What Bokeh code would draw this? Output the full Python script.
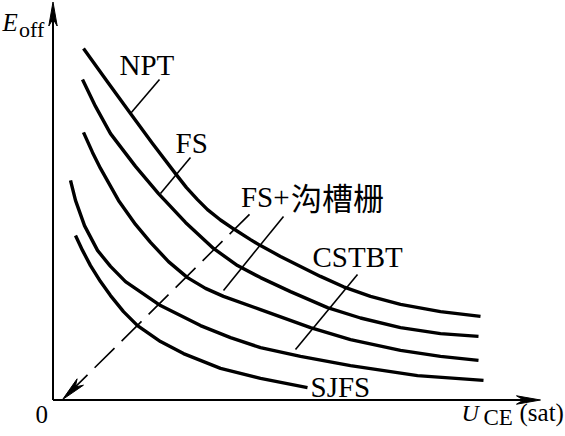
import math
from bokeh.plotting import figure
from bokeh.models import Range1d, Label
from bokeh.core.properties import value
from bokeh.embed import file_html
from bokeh.resources import INLINE

# ---------------- data (arbitrary units) ----------------
series = ["NPT", "FS", "FS+沟槽栅", "CSTBT", "SJFS"]

npt_x = [0.61, 1.07, 1.55, 1.99, 2.45, 2.67, 2.89, 3.09, 3.35, 3.61, 3.95, 4.15, 4.55, 4.95,
         5.35, 5.81, 6.35, 6.95, 7.75, 8.55]
npt_y = [8.79, 7.99, 7.16, 6.41, 5.66, 5.31, 5.01, 4.76, 4.50, 4.28, 4.01, 3.86, 3.59, 3.34,
         3.09, 2.83, 2.59, 2.39, 2.21, 2.09]

fs_x = [0.59, 0.85, 1.15, 1.65, 2.11, 2.65, 3.21, 3.69, 4.15, 4.75, 5.49, 6.15, 6.95, 7.75, 8.51]
fs_y = [8.01, 7.34, 6.66, 5.84, 5.16, 4.44, 3.79, 3.36, 3.06, 2.71, 2.31, 2.05, 1.81, 1.66, 1.59]

trench_x = [0.61, 0.79, 0.95, 1.31, 1.65, 1.95, 2.31, 2.69, 3.05, 3.41, 4.15, 5.15, 5.95, 6.95, 7.75, 8.51]
trench_y = [6.69, 6.19, 5.79, 4.99, 4.39, 3.94, 3.46, 3.06, 2.79, 2.59, 2.26, 1.81, 1.51, 1.24, 1.09, 0.99]

cstbt_x = [0.35, 0.45, 0.63, 0.89, 1.15, 1.45, 2.15, 2.95, 3.55, 4.15, 4.95, 5.95, 7.29, 8.61]
cstbt_y = [5.49, 4.99, 4.36, 3.74, 3.34, 2.96, 2.36, 1.86, 1.56, 1.31, 1.09, 0.86, 0.61, 0.49]

sjfs_x = [0.45, 0.59, 0.75, 0.95, 1.15, 1.41, 1.69, 2.15, 2.61, 3.35, 4.15, 5.09]
sjfs_y = [4.11, 3.74, 3.36, 2.96, 2.61, 2.21, 1.86, 1.46, 1.16, 0.79, 0.54, 0.31]

curves_x = [npt_x, fs_x, trench_x, cstbt_x, sjfs_x]
curves_y = [npt_y, fs_y, trench_y, cstbt_y, sjfs_y]

# axis extents (data units)
x_axis_end = 9.75
y_axis_end = 9.95

# ---------------- layout / annotation placement ----------------
W, H = 565, 436
X0, X1 = -1.05, 10.25
Y0, Y1 = -0.9125, 9.9875
SX = W / (X1 - X0)
SY = H / (Y1 - Y0)

SERIF = "Liberation Serif"
CJK = "Noto Sans CJK SC"


def lift(fs_px):
    # raise a text so that its visible baseline sits at the intended position
    return 0.3 * fs_px / SY


p = figure(width=W, height=H, x_range=Range1d(X0, X1), y_range=Range1d(Y0, Y1),
           output_backend="svg", toolbar_location=None,
           x_axis_type=None, y_axis_type=None, min_border=0)
p.outline_line_color = None
p.background_fill_color = "white"
p.border_fill_color = "white"


def arrow_head(tip, tail, length=24.0, half=4.2, notch=17.0):
    dx = (tail[0] - tip[0]) * SX
    dy = (tail[1] - tip[1]) * SY
    L = math.hypot(dx, dy)
    ux, uy = dx / L, dy / L
    vx, vy = -uy, ux
    pts = [(0.0, 0.0),
           (length * ux + half * vx, length * uy + half * vy),
           (notch * ux, notch * uy),
           (length * ux - half * vx, length * uy - half * vy)]
    xs = [tip[0] + a / SX for a, b in pts]
    ys = [tip[1] + b / SY for a, b in pts]
    base = (tip[0] + notch * ux / SX, tip[1] + notch * uy / SY)
    return xs, ys, base


# axes drawn as arrows
origin = (0.0, 0.0)
for tip in [(0.0, y_axis_end), (x_axis_end, 0.0)]:
    hx, hy, base = arrow_head(tip, origin)
    p.line([origin[0], base[0]], [origin[1], base[1]], line_color="black", line_width=2)
    p.patch(hx, hy, fill_color="black", line_color="black", line_width=1)

# curves
for cx, cy in zip(curves_x, curves_y):
    p.line(cx, cy, line_color="black", line_width=3.4, line_join="round")

# leader lines
lead_x0 = [2.13, 2.75, 4.61, 6.09]
lead_y0 = [8.01, 6.06, 4.59, 3.14]
lead_x1 = [1.55, 2.15, 3.41, 4.85]
lead_y1 = [7.16, 5.16, 2.74, 1.26]
p.segment(lead_x0, lead_y0, lead_x1, lead_y1, line_color="black", line_width=1.6)

# dashed trend arrow
d_tail = (3.93, 4.64)
d_tip = (0.19, 0.01)
hx, hy, base = arrow_head(d_tip, d_tail, length=25.0, half=4.5, notch=18.0)
p.line([d_tail[0], base[0]], [d_tail[1], base[1]], line_color="black",
       line_width=1.6, line_dash="28 10")
p.patch(hx, hy, fill_color="black", line_color="black", line_width=1)

# series labels (x, baseline y)
lab_x = [1.33, 2.45, 5.19, 5.15]
lab_y = [8.16, 6.21, 3.36, 0.10]
p.text(x=lab_x, y=[v + lift(29) for v in lab_y],
       text=[series[0], series[1], series[3], series[4]],
       text_font=value(SERIF), text_font_size="29px", text_color="black",
       text_align="left", text_baseline="alphabetic")
p.text(x=[4.73], y=[4.86 + lift(29)], text=[series[2][:3]],
       text_font=value(SERIF), text_font_size="29px", text_color="black",
       text_align="right", text_baseline="alphabetic")
p.text(x=[4.76], y=[4.86 + lift(31)], text=[series[2][3:]],
       text_font=value(CJK), text_font_size="31px", text_color="black",
       text_align="left", text_baseline="alphabetic")

# axis titles and origin (annotations, not clipped by the frame)
titles = [
    (-1.01, 9.26, "E", 25, "italic"),
    (-0.68, 9.11, "off", 22, "normal"),
    (8.17, -0.51, "U", 24, "italic"),
    (8.61, -0.62, "CE", 23, "normal"),
    (9.33, -0.51, "(sat)", 25, "normal"),
    (-0.35, -0.56, "0", 25, "normal"),
]
for tx, ty, tt, fsz, fst in titles:
    p.add_layout(Label(x=tx, y=ty + lift(fsz), text=tt, text_font=SERIF,
                       text_font_size=f"{fsz}px", text_font_style=fst, text_color="black",
                       text_baseline="alphabetic", text_align="left"))

open("out.html", "w").write(file_html(p, INLINE))
